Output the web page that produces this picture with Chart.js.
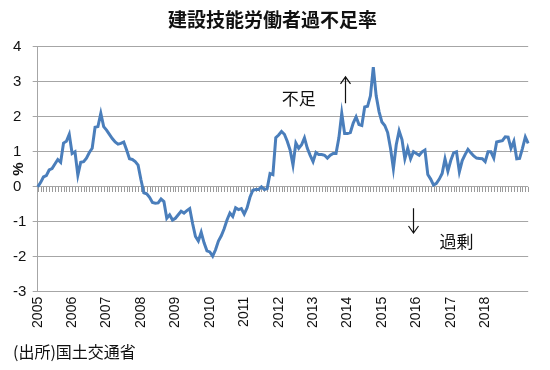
<!DOCTYPE html>
<html lang="ja">
  <head>
    <meta charset="UTF-8" />
    <title>建設技能労働者過不足率</title>
    <script src="https://cdn.jsdelivr.net/npm/chart.js@4.4.0/dist/chart.umd.min.js"></script>
    <style>
      html, body { margin: 0; padding: 0; background: #fff; }
    </style>
  </head>
  <body>
    <canvas id="chartShortage" width="550" height="370"></canvas>
    <script>
      // monthly, Jan 2005 - Apr 2019 (%)
      const years = [2005, 2006, 2007, 2008, 2009, 2010, 2011, 2012, 2013, 2014, 2015, 2016, 2017, 2018, 2019];
      // years that get a label on the axis
      const tickYears = [2005, 2006, 2007, 2008, 2009, 2010, 2011, 2012, 2013, 2014, 2015, 2016, 2017, 2018];
      const shortage = [
        0.0, 0.12, 0.28, 0.32, 0.48, 0.52, 0.65, 0.78, 0.7, 1.25, 1.3, 1.5,
        0.95, 1.0, 0.33, 0.7, 0.72, 0.82, 0.98, 1.1, 1.7, 1.72, 2.1, 1.72,
        1.62, 1.5, 1.38, 1.28, 1.22, 1.24, 1.28, 1.05, 0.8, 0.78, 0.72, 0.62,
        0.2, -0.17, -0.2, -0.3, -0.45, -0.47, -0.46, -0.35, -0.42, -0.9, -0.8, -0.95,
        -0.9, -0.8, -0.7, -0.75, -0.68, -0.62, -1.05, -1.42, -1.55, -1.3, -1.6, -1.83,
        -1.86, -1.98, -1.8, -1.55, -1.4, -1.2, -0.95, -0.75, -0.85, -0.6, -0.65, -0.62,
        -0.78, -0.6, -0.3, -0.1, -0.08, -0.08, 0.0, -0.08, -0.05, 0.38, 0.35, 1.4,
        1.48, 1.58, 1.5, 1.3, 1.05, 0.62, 1.25, 1.1, 1.2, 1.4, 1.1, 0.9,
        0.72, 0.98, 0.92, 0.92, 0.9, 0.82, 0.9, 0.95, 0.95, 1.4, 2.1, 1.52,
        1.52, 1.55, 1.82, 2.0, 1.78, 1.75, 2.28, 2.3, 2.6, 3.42, 2.6, 2.15,
        1.85, 1.75, 1.55, 1.1, 0.52, 1.2, 1.6, 1.35, 0.8, 1.1, 0.8, 1.0,
        0.95, 0.9, 1.0, 1.05, 0.35, 0.22, 0.05, 0.1, 0.22, 0.38, 0.8, 0.45,
        0.75, 0.97, 1.0, 0.43, 0.75, 0.92, 1.07, 0.97, 0.88, 0.82, 0.81, 0.8,
        0.72, 1.0, 1.0, 0.82, 1.28, 1.3, 1.32, 1.43, 1.42, 1.1, 1.3, 0.8,
        0.81, 1.1, 1.42, 1.24
      ];

      const labels = [];
      years.forEach((yr) => {
        for (let m = 1; m <= 12; m++) {
          if (labels.length < shortage.length) labels.push(yr + "/" + m);
        }
      });

      const jp = "'Noto Sans CJK JP', sans-serif";
      const num = "'Liberation Sans', Arial, sans-serif";
      const gridColor = "#a6a6a6";

      // notes drawn on the plot (category index, value)
      const notes = [
        { text: "不足", idx: 91, val: 2.53 },
        { text: "過剰", idx: 146, val: -1.57 },
      ];
      const arrows = [
        { idx: 107, from: 2.39, to: 3.14 },
        { idx: 131, from: -0.61, to: -1.32 },
      ];

      const extras = {
        id: "extras",
        beforeDatasetsDraw(chart) {
          const { ctx, scales: { x, y } } = chart;
          // small marks under the zero line, one per month
          const y0 = Math.round(y.getPixelForValue(0));
          ctx.save();
          ctx.strokeStyle = "#9a9a9a";
          ctx.lineWidth = 1;
          ctx.beginPath();
          for (let i = 0; i < labels.length; i++) {
            const px = Math.round(x.getPixelForValue(i)) + 0.5;
            ctx.moveTo(px, y0);
            ctx.lineTo(px, y0 + 5);
          }
          ctx.stroke();
          ctx.restore();
        },
        afterDraw(chart) {
          const { ctx, scales: { x, y } } = chart;
          ctx.save();
          ctx.fillStyle = "#111";
          ctx.textAlign = "center";
          ctx.textBaseline = "middle";
          ctx.font = "17px " + jp;
          notes.forEach((n) => {
            ctx.fillText(n.text, x.getPixelForValue(n.idx), y.getPixelForValue(n.val));
          });
          ctx.strokeStyle = "#111";
          ctx.lineWidth = 1.2;
          arrows.forEach((a) => {
            const px = Math.round(x.getPixelForValue(a.idx)) + 0.5;
            const p1 = y.getPixelForValue(a.from);
            const p2 = y.getPixelForValue(a.to);
            const dir = p2 < p1 ? 1 : -1;
            ctx.beginPath();
            ctx.moveTo(px, p1);
            ctx.lineTo(px, p2);
            ctx.moveTo(px - 5, p2 + dir * 7);
            ctx.lineTo(px, p2);
            ctx.lineTo(px + 5, p2 + dir * 7);
            ctx.stroke();
          });
          // unit label
          ctx.translate(19, 169);
          ctx.rotate(-Math.PI / 2);
          ctx.font = "bold 15px " + num;
          ctx.fillText("%", 0, 0);
          ctx.restore();
        },
      };

      new Chart(document.getElementById("chartShortage"), {
        type: "line",
        data: {
          labels: labels,
          datasets: [
            {
              data: shortage,
              borderColor: "#4a7ebb",
              borderWidth: 3,
              pointRadius: 0,
              tension: 0,
            },
          ],
        },
        options: {
          responsive: false,
          animation: false,
          layout: { padding: { left: 13, right: 18, top: 0, bottom: 0 } },
          plugins: {
            legend: { display: false },
            tooltip: { enabled: false },
            title: {
              display: true,
              text: "建設技能労働者過不足率",
              color: "#111",
              font: { family: jp, size: 19, weight: "bold", lineHeight: 1.2 },
              padding: { top: 8, bottom: 16 },
            },
            subtitle: {
              display: true,
              text: "(出所)国土交通省",
              position: "bottom",
              align: "start",
              color: "#111",
              font: { family: jp, size: 16, lineHeight: 1.2 },
              padding: { top: 1, bottom: 8 },
            },
          },
          scales: {
            x: {
              type: "category",
              offset: false,
              grid: { display: false, drawTicks: false },
              border: { display: false },
              ticks: {
                autoSkip: false,
                maxRotation: 90,
                minRotation: 90,
                padding: 5,
                color: "#111",
                font: { family: num, size: 14 },
                callback: (v, i) => {
                  const yr = Number(labels[i].slice(0, 4));
                  return i % 12 === 0 && tickYears.includes(yr) ? String(yr) : "";
                },
              },
              afterFit: (s) => { s.height = 50; },
            },
            y: {
              min: -3,
              max: 4,
              ticks: {
                stepSize: 1,
                crossAlign: "far",
                color: "#111",
                font: { family: num, size: 15 },
              },
              grid: { color: gridColor, tickLength: 5 },
              border: { display: true, color: gridColor },
              afterFit: (s) => { s.width = 24.7; },
            },
          },
        },
        plugins: [extras],
      });
    </script>
  </body>
</html>
